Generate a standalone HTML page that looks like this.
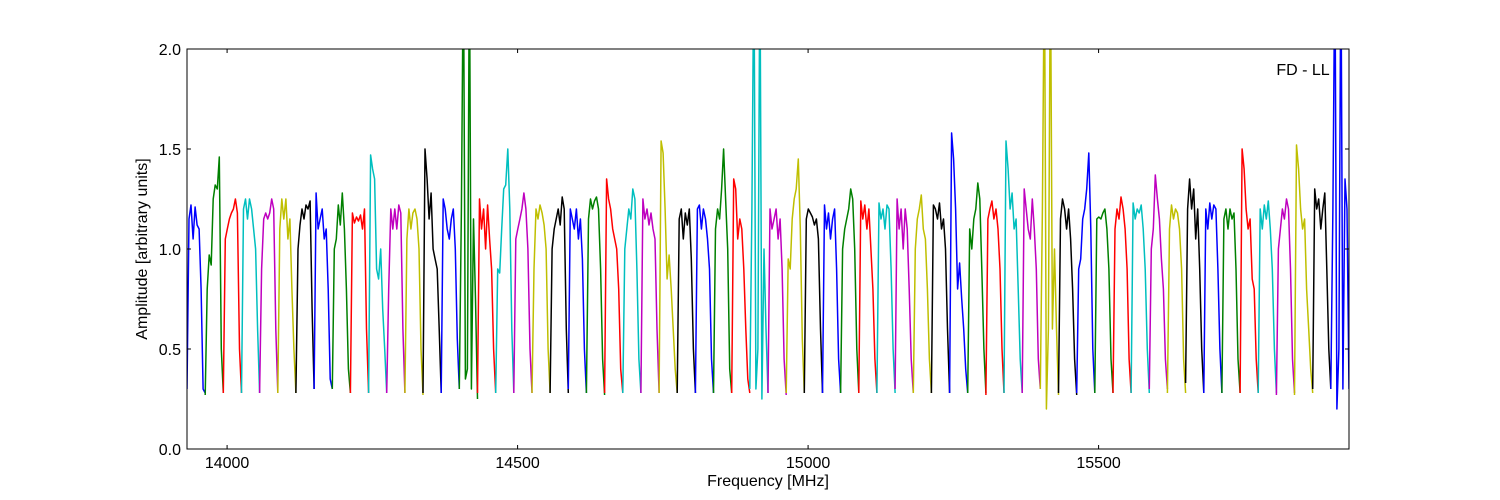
<!DOCTYPE html>
<html><head><meta charset="utf-8"><style>
body{margin:0;background:#fff;}
svg{display:block;font-family:"Liberation Sans",sans-serif;}
</style></head><body>
<svg id="chart" width="1500" height="500">
<rect x="0" y="0" width="1500" height="500" fill="#fff"/>
<defs><clipPath id="clip"><rect x="187" y="49" width="1162" height="400"/></clipPath></defs>
<g id="series" clip-path="url(#clip)"></g>
<rect x="187" y="49" width="1162" height="400" fill="none" stroke="#000" stroke-width="1"/>
<g id="axes"></g>
<text x="1303" y="75" font-size="16" text-anchor="middle">FD - LL</text>
<text x="768" y="486" font-size="16" text-anchor="middle">Frequency [MHz]</text>
<text x="147" y="249" font-size="16" text-anchor="middle" transform="rotate(-90 147 249)">Amplitude [arbitrary units]</text>
</svg>
<script>
const xTicks=[14000,14500,15000,15500];
const yTicks=[0.0,0.5,1.0,1.5,2.0];
const colors=['#0000ff','#008000','#ff0000','#00bfbf','#bf00bf','#bfbf00','#000000'];
const segStart=13931;
const segWidth=31.25;
const segments=[
[0.3,1.15,1.22,1.05,1.21,1.12,1.1,0.8,0.3,0.28],
[0.27,0.8,0.97,0.92,1.25,1.32,1.3,1.46,0.5,0.28],
[0.28,1.05,1.1,1.15,1.18,1.2,1.25,1.18,0.5,0.28],
[0.28,1.2,1.25,1.15,1.25,1.2,1.1,1.0,0.6,0.28],
[0.28,0.9,1.15,1.18,1.15,1.18,1.25,1.2,0.6,0.28],
[0.28,1.1,1.25,1.15,1.25,1.05,1.15,0.8,0.5,0.28],
[0.28,1.0,1.12,1.2,1.15,1.22,1.2,1.24,0.7,0.3],
[0.3,1.28,1.1,1.15,1.2,1.05,1.1,0.8,0.35,0.3],
[0.3,1.0,1.05,1.22,1.12,1.28,1.1,0.8,0.4,0.28],
[0.28,1.18,1.13,1.16,1.14,1.17,1.1,1.2,0.6,0.28],
[0.28,1.47,1.4,1.35,0.9,0.85,1.0,0.7,0.5,0.28],
[0.28,0.8,1.2,1.1,1.2,1.1,1.22,1.18,0.6,0.28],
[0.28,1.05,1.2,1.1,1.18,1.2,1.15,1.0,0.5,0.27],
[0.28,1.5,1.35,1.15,1.28,1.0,0.95,0.9,0.6,0.28],
[0.28,1.25,1.2,1.1,1.05,1.15,1.2,1.0,0.55,0.3],
[0.3,1.2,2.5,0.35,0.4,2.5,0.3,1.15,0.75,0.25],
[0.28,1.25,1.1,1.2,1.0,1.22,1.05,0.9,0.5,0.28],
[0.28,0.9,0.88,1.1,1.3,1.32,1.5,1.2,0.6,0.28],
[0.28,1.05,1.1,1.15,1.2,1.28,1.2,1.0,0.5,0.28],
[0.28,0.9,1.2,1.15,1.22,1.18,1.12,1.0,0.5,0.28],
[0.28,1.0,1.1,1.15,1.2,1.12,1.26,1.2,0.6,0.28],
[0.3,1.2,1.15,1.1,1.2,1.05,1.15,0.95,0.5,0.28],
[0.28,1.15,1.25,1.2,1.24,1.26,1.2,0.9,0.45,0.27],
[0.28,1.35,1.25,1.2,1.1,1.05,1.0,0.8,0.4,0.28],
[0.28,1.0,1.1,1.2,1.15,1.3,1.25,0.9,0.45,0.28],
[0.28,1.25,1.15,1.2,1.12,1.18,1.1,1.05,0.6,0.28],
[0.28,1.54,1.48,1.2,0.85,0.97,0.8,0.6,0.4,0.28],
[0.28,1.15,1.2,1.05,1.18,1.12,1.2,0.95,0.5,0.28],
[0.28,1.2,1.22,1.1,1.2,1.15,1.05,0.9,0.45,0.28],
[0.28,1.1,1.2,1.15,1.3,1.5,1.25,1.0,0.4,0.28],
[0.28,1.35,1.3,1.05,1.15,1.1,0.9,0.6,0.35,0.28],
[0.3,1.2,2.5,0.3,0.5,2.5,0.25,1.0,0.6,0.28],
[0.28,1.2,1.1,1.15,1.2,1.05,1.15,0.9,0.45,0.27],
[0.28,0.95,0.9,1.15,1.25,1.3,1.45,1.1,0.55,0.28],
[0.28,1.15,1.2,1.18,1.16,1.12,1.15,1.05,0.6,0.28],
[0.28,1.22,1.1,1.18,1.05,1.15,1.2,0.9,0.45,0.28],
[0.28,1.0,1.1,1.15,1.2,1.3,1.25,1.0,0.5,0.28],
[0.28,1.24,1.15,1.22,1.1,1.2,1.0,0.8,0.45,0.28],
[0.28,1.23,1.15,1.2,1.1,1.22,1.2,0.9,0.5,0.28],
[0.3,1.25,1.1,1.2,1.0,1.2,1.1,0.8,0.45,0.28],
[0.28,1.0,1.15,1.2,1.27,1.1,1.05,0.8,0.45,0.28],
[0.28,1.22,1.2,1.15,1.23,1.1,1.15,1.0,0.6,0.28],
[0.28,1.58,1.45,1.2,0.8,0.93,0.75,0.6,0.4,0.28],
[0.28,1.1,1.0,1.15,1.2,1.33,1.25,0.9,0.5,0.28],
[0.27,1.15,1.2,1.24,1.15,1.2,1.1,0.9,0.5,0.28],
[0.28,1.54,1.4,1.2,1.28,1.1,1.15,0.8,0.45,0.28],
[0.28,1.3,1.2,1.1,1.05,1.25,1.1,0.9,0.45,0.3],
[0.3,1.2,2.5,0.2,0.6,2.5,0.6,1.0,0.6,0.27],
[0.28,1.15,1.25,1.2,1.1,1.2,1.05,0.8,0.45,0.27],
[0.28,0.9,0.95,1.15,1.2,1.3,1.48,1.1,0.5,0.28],
[0.28,1.15,1.16,1.15,1.18,1.2,1.1,0.9,0.45,0.28],
[0.28,1.1,1.2,1.15,1.26,1.2,1.1,0.9,0.45,0.28],
[0.28,1.23,1.15,1.2,1.18,1.22,1.1,0.9,0.5,0.28],
[0.3,1.0,1.1,1.37,1.25,1.15,0.95,0.8,0.45,0.3],
[0.28,1.1,1.22,1.15,1.2,1.18,1.1,0.9,0.45,0.28],
[0.33,1.2,1.35,1.2,1.3,1.05,1.2,0.9,0.5,0.28],
[0.28,1.2,1.1,1.23,1.15,1.22,1.2,0.9,0.5,0.28],
[0.28,1.15,1.2,1.1,1.2,1.15,1.18,0.9,0.45,0.28],
[0.28,1.5,1.4,1.2,1.1,1.15,0.85,0.8,0.45,0.28],
[0.28,1.2,1.1,1.22,1.15,1.24,1.1,0.9,0.5,0.28],
[0.27,1.0,1.1,1.2,1.15,1.25,1.2,0.9,0.45,0.28],
[0.27,1.52,1.4,1.2,1.1,1.15,0.8,0.6,0.4,0.28],
[0.3,1.3,1.2,1.25,1.1,1.2,1.28,0.9,0.5,0.3],
[0.3,1.2,2.5,0.2,0.5,2.5,0.3,1.35,1.2,0.3]
];
const NS='http://www.w3.org/2000/svg';
const x0=13931,x1=15931,px0=187,px1=1349,py0=449,py1=49;
function xs(f){return px0+(f-x0)/(x1-x0)*(px1-px0);}
function ys(v){return py0+(v/2)*(py1-py0);}
const g=document.getElementById('series');
segments.forEach((vals,i)=>{
  const n=vals.length;
  const pts=vals.map((v,j)=>xs(segStart+i*segWidth+j*segWidth/(n-1)).toFixed(1)+','+ys(v).toFixed(1)).join(' ');
  const pl=document.createElementNS(NS,'polyline');
  pl.setAttribute('points',pts);
  pl.setAttribute('fill','none');
  pl.setAttribute('stroke',colors[i%7]);
  pl.setAttribute('stroke-width','1.5');
  pl.setAttribute('stroke-linejoin','round');
  
  
  g.appendChild(pl);
});
const ax=document.getElementById('axes');
xTicks.forEach(t=>{
  const x=xs(t);
  [[449,445],[49,53]].forEach(([a,b])=>{
    const l=document.createElementNS(NS,'line');
    l.setAttribute('x1',x);l.setAttribute('x2',x);l.setAttribute('y1',a);l.setAttribute('y2',b);
    l.setAttribute('stroke','#000');
    
    
    ax.appendChild(l);
  });
  const tx=document.createElementNS(NS,'text');
  tx.setAttribute('x',x);tx.setAttribute('y',468);tx.setAttribute('font-size','16');tx.setAttribute('text-anchor','middle');
  tx.textContent=t;
  
  
  ax.appendChild(tx);
});
yTicks.forEach(t=>{
  const y=ys(t);
  [[187,191],[1349,1345]].forEach(([a,b])=>{
    const l=document.createElementNS(NS,'line');
    l.setAttribute('x1',a);l.setAttribute('x2',b);l.setAttribute('y1',y);l.setAttribute('y2',y);
    l.setAttribute('stroke','#000');
    
    
    ax.appendChild(l);
  });
  const tx=document.createElementNS(NS,'text');
  tx.setAttribute('x',181);tx.setAttribute('y',y+6);tx.setAttribute('font-size','16');tx.setAttribute('text-anchor','end');
  tx.textContent=t.toFixed(1);
  
  
  ax.appendChild(tx);
});
</script>
</body></html>
